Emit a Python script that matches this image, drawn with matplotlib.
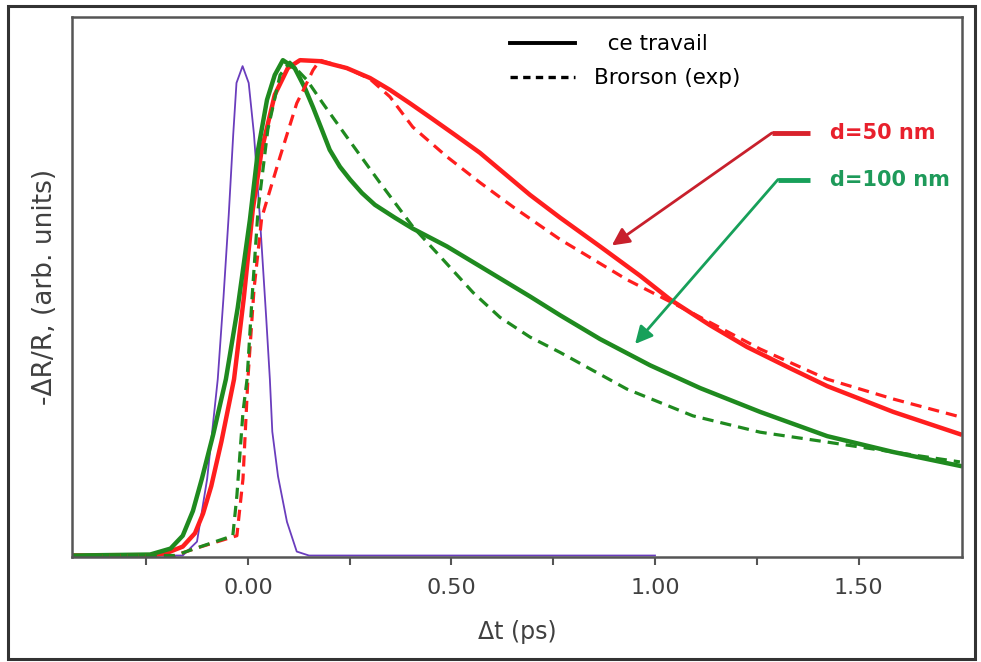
import matplotlib.pyplot as plt
from matplotlib.lines import Line2D
from matplotlib.patches import Rectangle

# pump pulse
t_pulse = [-0.43, -0.16, -0.125, -0.100, -0.074, -0.060, -0.047, -0.036, -0.028,
           -0.013, 0.002, 0.015, 0.029, 0.045, 0.054, 0.060, 0.074, 0.096, 0.120,
           0.15, 1.00]
v_pulse = [0.0, 0.0, 0.028, 0.155, 0.356, 0.52, 0.688, 0.85, 0.954,
           0.988, 0.954, 0.85, 0.688, 0.48, 0.356, 0.25, 0.16, 0.068, 0.008,
           0.0, 0.0]

# ce travail, d=50 nm
t_red = [-0.43, -0.24, -0.20, -0.16, -0.13, -0.11, -0.09, -0.065, -0.034, -0.010,
         0.012, 0.034, 0.066, 0.098, 0.128, 0.177, 0.243, 0.300, 0.349, 0.398,
         0.447, 0.509, 0.570, 0.693, 0.767, 0.865, 0.963, 1.037, 1.135, 1.226,
         1.332, 1.423, 1.585, 1.749]
v_red = [0.0, 0.0, 0.005, 0.018, 0.045, 0.085, 0.14, 0.23, 0.356, 0.52,
         0.698, 0.819, 0.93, 0.984, 1.0, 0.998, 0.984, 0.964, 0.94, 0.913,
         0.885, 0.849, 0.813, 0.728, 0.682, 0.624, 0.565, 0.517, 0.465, 0.421,
         0.378, 0.342, 0.290, 0.245]

# ce travail, d=100 nm
t_green = [-0.43, -0.24, -0.19, -0.16, -0.135, -0.113, -0.085, -0.054, -0.025, 0.005,
           0.025, 0.047, 0.066, 0.086, 0.115, 0.140, 0.160, 0.182, 0.201, 0.226,
           0.251, 0.280, 0.312, 0.361, 0.405, 0.489, 0.570, 0.693, 0.767, 0.865,
           0.988, 1.111, 1.258, 1.423, 1.585, 1.749]
v_green = [0.0, 0.002, 0.014, 0.04, 0.09, 0.155, 0.245, 0.356, 0.50, 0.678,
           0.819, 0.92, 0.97, 1.0, 0.984, 0.944, 0.905, 0.859, 0.819, 0.785,
           0.759, 0.732, 0.708, 0.682, 0.660, 0.624, 0.584, 0.523, 0.485, 0.437,
           0.384, 0.338, 0.290, 0.241, 0.209, 0.181]

# Brorson (exp), d=50 nm
t_red_exp = [-0.43, -0.179, -0.13, -0.027, -0.012, 0.0, 0.015, 0.034, 0.079, 0.120,
             0.140, 0.160, 0.177, 0.243, 0.300, 0.349, 0.405, 0.489, 0.570, 0.651,
             0.767, 0.931, 1.093, 1.258, 1.423, 1.585, 1.749]
v_red_exp = [0.0, 0.0, 0.014, 0.04, 0.155, 0.356, 0.537, 0.682, 0.805, 0.913,
             0.946, 0.98, 1.0, 0.984, 0.962, 0.926, 0.865, 0.805, 0.753, 0.704,
             0.638, 0.557, 0.489, 0.417, 0.356, 0.316, 0.280]

# Brorson (exp), d=100 nm
t_green_exp = [-0.43, -0.179, -0.13, -0.037, -0.027, -0.012, -0.002, 0.010, 0.025, 0.049,
               0.079, 0.103, 0.145, 0.184, 0.243, 0.324, 0.405, 0.472, 0.553, 0.619,
               0.693, 0.767, 0.931, 1.093, 1.258, 1.423, 1.585, 1.749]
v_green_exp = [0.0, 0.0, 0.014, 0.04, 0.121, 0.29, 0.356, 0.517, 0.698, 0.86,
               0.97, 0.996, 0.96, 0.913, 0.845, 0.753, 0.664, 0.604, 0.531, 0.481,
               0.441, 0.41, 0.336, 0.282, 0.249, 0.229, 0.209, 0.189]

major_ticks = [0.0, 0.5, 1.0, 1.5]
minor_ticks = [-0.25, 0.25, 0.75, 1.25]

RED = '#ff1e1e'
GREEN = '#1f8a1f'

fig = plt.figure(figsize=(9.81, 6.62), dpi=100)
ax = fig.add_axes([0.0734, 0.1586, 0.9072, 0.8156])

ax.plot(t_pulse, v_pulse, color='#6a3dbd', lw=1.3)
ax.plot(t_red, v_red, color=RED, lw=3.2)
ax.plot(t_green, v_green, color=GREEN, lw=3.2)
ax.plot(t_red_exp, v_red_exp, color=RED, lw=2.3, ls=(0, (3.5, 2.2)))
ax.plot(t_green_exp, v_green_exp, color=GREEN, lw=2.3, ls=(0, (3.5, 2.2)))

ax.set_xlim(-0.432, 1.754)
ax.set_ylim(-0.003, 1.087)

ax.set_xticks(major_ticks)
ax.set_xticklabels(['0.00', '0.50', '1.00', '1.50'])
ax.set_xticks(minor_ticks, minor=True)
ax.set_yticks([])
ax.tick_params(axis='x', which='both', direction='out', length=6, width=1.5,
               color='#555555', labelsize=16, labelcolor='#404040', pad=9)

for s in ax.spines.values():
    s.set_color('#555555')
    s.set_linewidth(1.8)

ax.set_xlabel('Δt (ps)', fontsize=17, color='#404040', labelpad=16)
ax.set_ylabel('-ΔR/R, (arb. units)', fontsize=19, color='#404040', labelpad=10)

# legend
handles = [Line2D([], [], color='black', lw=2.8),
           Line2D([], [], color='black', lw=2.4, ls=(0, (2.2, 1.6)))]
ax.legend(handles, ['  ce travail', 'Brorson (exp)'], loc='upper left',
          bbox_to_anchor=(0.48, 0.988), frameon=False, fontsize=15.5,
          handlelength=3.0, handletextpad=0.9, labelspacing=0.65, borderpad=0)

# annotations
ax.plot([1.287, 1.381], [0.853, 0.853], color='#d9222c', lw=3.5, solid_capstyle='butt')
ax.annotate('', xy=(0.894, 0.626), xytext=(1.287, 0.853),
            arrowprops=dict(arrowstyle='-|>', mutation_scale=26, lw=2.0,
                            color='#c8202c', shrinkA=0, shrinkB=0))
ax.text(1.43, 0.853, 'd=50 nm', color='#e8202c', fontsize=15, fontweight='bold',
        va='center')

ax.plot([1.302, 1.381], [0.759, 0.759], color='#17a05a', lw=3.5, solid_capstyle='butt')
ax.annotate('', xy=(0.951, 0.427), xytext=(1.302, 0.759),
            arrowprops=dict(arrowstyle='-|>', mutation_scale=26, lw=2.0,
                            color='#17a05a', shrinkA=0, shrinkB=0))
ax.text(1.43, 0.759, 'd=100 nm', color='#1e9a5a', fontsize=15, fontweight='bold',
        va='center')

# outer frame
fig.patches.append(Rectangle((0.008, 0.005), 0.986, 0.986, transform=fig.transFigure,
                             fill=False, edgecolor='#333333', lw=2.2))

fig.savefig('out.png', dpi=100)
